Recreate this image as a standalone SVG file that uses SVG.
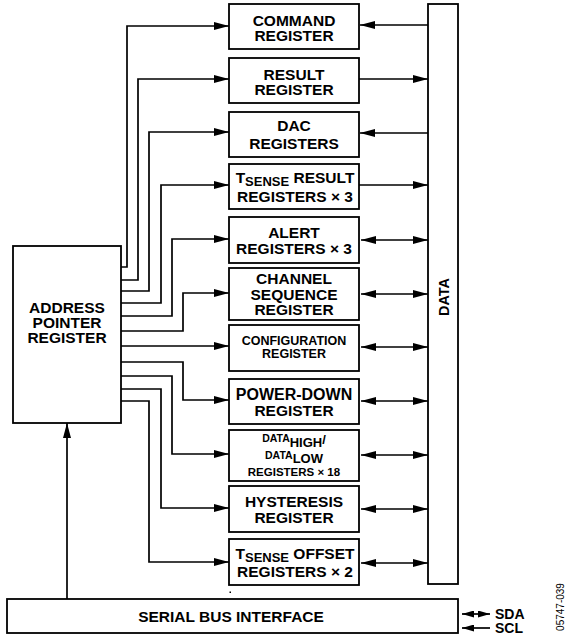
<svg xmlns="http://www.w3.org/2000/svg" width="566" height="638" viewBox="0 0 566 638">
<style>
.box{fill:#fff;stroke:#000;stroke-width:1.8}
.ln{fill:none;stroke:#000;stroke-width:1.7}
.t{font-family:"Liberation Sans",Arial,Helvetica,sans-serif;font-weight:bold;font-size:15.5px;text-anchor:middle;fill:#000}
.s{font-size:12.5px}
</style>
<defs>
<marker id="ah" markerUnits="userSpaceOnUse" markerWidth="15" markerHeight="8" refX="15" refY="4" orient="auto-start-reverse">
<path d="M0,0 L15,4 L0,8 z" fill="#000"/>
</marker>
<marker id="ahs" markerUnits="userSpaceOnUse" markerWidth="12" markerHeight="7" refX="12" refY="3.5" orient="auto-start-reverse">
<path d="M0,0 L12,3.5 L0,7 z" fill="#000"/>
</marker>
</defs>
<rect x="0" y="0" width="566" height="638" fill="#fff"/>

<g id="connectors">
<polyline class="ln" points="121,267 127,267 127,26 229,26" marker-end="url(#ah)"/>
<polyline class="ln" points="121,280 138,280 138,79 229,79" marker-end="url(#ah)"/>
<polyline class="ln" points="121,291 149,291 149,132 229,132" marker-end="url(#ah)"/>
<polyline class="ln" points="121,303 161,303 161,185 229,185" marker-end="url(#ah)"/>
<polyline class="ln" points="121,316 172,316 172,239 229,239" marker-end="url(#ah)"/>
<polyline class="ln" points="121,331 183,331 183,293 229,293" marker-end="url(#ah)"/>
<polyline class="ln" points="121,346 229,346" marker-end="url(#ah)"/>
<polyline class="ln" points="121,362 183,362 183,400 229,400" marker-end="url(#ah)"/>
<polyline class="ln" points="121,376 172,376 172,454 229,454" marker-end="url(#ah)"/>
<polyline class="ln" points="121,389 161,389 161,508 229,508" marker-end="url(#ah)"/>
<polyline class="ln" points="121,401 149,401 149,562 229,562" marker-end="url(#ah)"/>
<line class="ln" x1="428" y1="25" x2="360" y2="25" marker-end="url(#ah)"/>
<line class="ln" x1="359" y1="79" x2="428" y2="79" marker-end="url(#ah)"/>
<line class="ln" x1="428" y1="133" x2="360" y2="133" marker-end="url(#ah)"/>
<line class="ln" x1="359" y1="185" x2="428" y2="185" marker-end="url(#ah)"/>
<line class="ln" x1="361" y1="240" x2="428" y2="240" marker-start="url(#ah)" marker-end="url(#ah)"/>
<line class="ln" x1="361" y1="294" x2="428" y2="294" marker-start="url(#ah)" marker-end="url(#ah)"/>
<line class="ln" x1="361" y1="347" x2="428" y2="347" marker-start="url(#ah)" marker-end="url(#ah)"/>
<line class="ln" x1="361" y1="401" x2="428" y2="401" marker-start="url(#ah)" marker-end="url(#ah)"/>
<line class="ln" x1="361" y1="455" x2="428" y2="455" marker-start="url(#ah)" marker-end="url(#ah)"/>
<line class="ln" x1="361" y1="509" x2="428" y2="509" marker-start="url(#ah)" marker-end="url(#ah)"/>
<line class="ln" x1="361" y1="563" x2="428" y2="563" marker-start="url(#ah)" marker-end="url(#ah)"/>
<line class="ln" x1="67" y1="599" x2="67" y2="423" marker-end="url(#ah)"/>
<line class="ln" x1="462" y1="614" x2="490" y2="614" marker-start="url(#ahs)" marker-end="url(#ahs)"/>
<line class="ln" x1="490" y1="628" x2="462" y2="628" marker-end="url(#ahs)"/>
</g>

<g id="address-pointer">
<rect class="box" x="13" y="246" width="108" height="177"/>
<text class="t" x="67" y="313">ADDRESS</text>
<text class="t" x="67" y="328">POINTER</text>
<text class="t" x="67" y="343">REGISTER</text>
</g>

<g id="command-register">
<rect class="box" x="229" y="4" width="130" height="45"/>
<text class="t" x="294" y="26">COMMAND</text>
<text class="t" x="294" y="41">REGISTER</text>
</g>

<g id="result-register">
<rect class="box" x="229" y="58" width="130" height="45"/>
<text class="t" x="294" y="80">RESULT</text>
<text class="t" x="294" y="95">REGISTER</text>
</g>

<g id="dac-registers">
<rect class="box" x="229" y="112" width="130" height="45"/>
<text class="t" x="294" y="131">DAC</text>
<text class="t" x="294" y="149">REGISTERS</text>
</g>

<g id="tsense-result-registers">
<rect class="box" x="229" y="164" width="130" height="45"/>
<text class="t" x="295" y="183">T<tspan style="font-size:13px" dy="3">SENSE</tspan><tspan dy="-3"> RESULT</tspan></text>
<text class="t" x="295" y="202">REGISTERS × 3</text>
</g>

<g id="alert-registers">
<rect class="box" x="229" y="217" width="130" height="46"/>
<text class="t" x="294" y="238">ALERT</text>
<text class="t" x="294" y="254">REGISTERS × 3</text>
</g>

<g id="channel-sequence-register">
<rect class="box" x="229" y="268" width="130" height="52"/>
<text class="t" x="294" y="284">CHANNEL</text>
<text class="t" x="294" y="299.5">SEQUENCE</text>
<text class="t" x="294" y="315">REGISTER</text>
</g>

<g id="configuration-register">
<rect class="box" x="229" y="325" width="130" height="46"/>
<text class="t s" x="294" y="345">CONFIGURATION</text>
<text class="t s" x="294" y="358">REGISTER</text>
</g>

<g id="power-down-register">
<rect class="box" x="229" y="379" width="130" height="45"/>
<text class="t" x="294" y="400" style="font-size:16px">POWER-DOWN</text>
<text class="t" x="294" y="416">REGISTER</text>
</g>

<g id="data-high-low-registers">
<rect class="box" x="229" y="430" width="130" height="51"/>
<text class="t" x="294" y="442"><tspan style="font-size:10.5px">DATA</tspan><tspan style="font-size:13px" dy="5">HIGH</tspan><tspan style="font-size:13px" dy="-3">/</tspan></text>
<text class="t" x="294" y="458.5"><tspan style="font-size:10.5px">DATA</tspan><tspan style="font-size:13px" dy="4.5">LOW</tspan></text>
<text class="t" x="294" y="476" style="font-size:11.5px">REGISTERS × 18</text>
</g>

<g id="hysteresis-register">
<rect class="box" x="229" y="486" width="130" height="46"/>
<text class="t" x="294" y="507">HYSTERESIS</text>
<text class="t" x="294" y="522.5">REGISTER</text>
</g>

<g id="tsense-offset-registers">
<rect class="box" x="229" y="539" width="130" height="46"/>
<text class="t" x="295" y="559">T<tspan style="font-size:13px" dy="3">SENSE</tspan><tspan dy="-3"> OFFSET</tspan></text>
<text class="t" x="295" y="576.5">REGISTERS × 2</text>
<rect x="229.5" y="591.5" width="1.5" height="1.5" fill="#000"/>
</g>

<g id="data-bus">
<rect class="box" x="428" y="4" width="30" height="580"/>
<text class="t" transform="translate(448.5,297) rotate(-90)" x="0" y="0" style="font-size:14.5px">DATA</text>
</g>

<g id="serial-bus-interface">
<rect class="box" x="7" y="599" width="451" height="34"/>
<text class="t" x="231" y="622">SERIAL BUS INTERFACE</text>
</g>

<g id="pins">
<text class="t" x="495" y="619" style="text-anchor:start;font-size:14px">SDA</text>
<text class="t" x="495" y="633" style="text-anchor:start;font-size:14px">SCL</text>
</g>

<text transform="translate(564,607) rotate(-90)" x="0" y="0" font-family="Liberation Sans,Arial,sans-serif" font-size="10" text-anchor="middle" fill="#000">05747-039</text>
</svg>
